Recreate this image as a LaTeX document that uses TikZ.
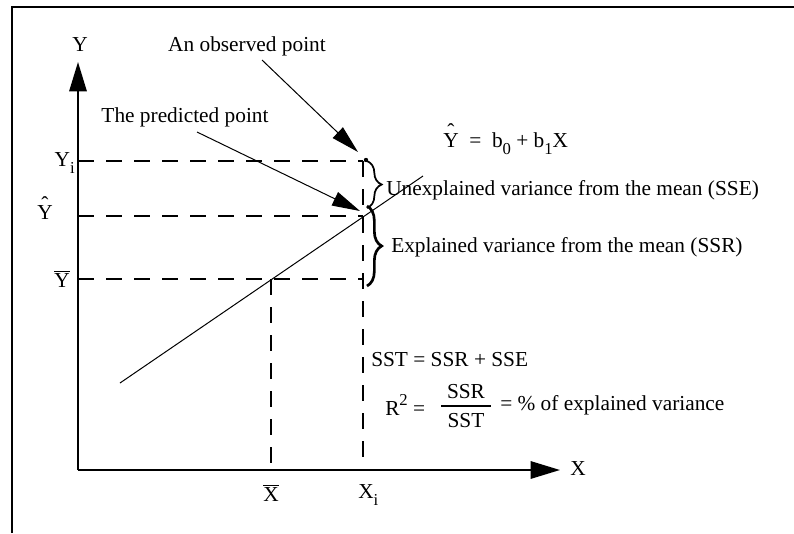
\documentclass[tikz,border=0pt]{standalone}
\usepackage{fontspec}
\setmainfont{Liberation Serif}
\usetikzlibrary{arrows.meta,decorations.pathreplacing}
\newcommand\mysub[1]{\raisebox{-0.32em}{\fontsize{12.5}{12.5}\selectfont #1}}
\newcommand\mysup[1]{\raisebox{0.45em}{\fontsize{12.5}{12.5}\selectfont #1}}
\newcommand\hatY{\ooalign{Y\cr\hfil\raisebox{0.42em}{\char"02C6}\hfil\cr}}
\begin{document}
\begin{tikzpicture}[x=0.75pt,y=-0.75pt,
  txt/.style={font=\fontsize{16}{19}\selectfont, inner sep=0pt},
  axis/.style={line width=1.5pt},
  guide/.style={line width=1.5pt, dash pattern=on 12pt off 9pt},
  bigarrow/.style={-{Triangle[length=22pt,width=13pt]}},
  callout/.style={line width=0.75pt,-{Triangle[length=21pt,width=11pt]}},
  bracestyle/.style={decorate, decoration={brace, amplitude=11pt}},
]
\useasboundingbox (0,0) rectangle (794,533);
% frame
\coordinate (fb) at (12,533);
\coordinate (fc) at (12,7);
\coordinate (fr) at (794,7);
\draw[line width=1.5pt] (fb) -- (fc) -- (fr);

% axes
\coordinate (O) at (78,470);
\coordinate (ytop) at (78,62);
\coordinate (xend) at (560,470);
\draw[axis, bigarrow] (O) -- (ytop);
\draw[axis, bigarrow] (O) -- (xend);
\node[txt] (Ylab) at (80,45) {Y};
\node[txt] (Xlab) at (578,469) {X};

% key points
\coordinate (Pi) at (363,161);
\coordinate (Ph) at (363,216);
\coordinate (Pb) at (363,279);
\coordinate (M) at (271,279);
\coordinate (Ayi) at (78,161);
\coordinate (Ayh) at (78,216);
\coordinate (Ayb) at (78,279);
\coordinate (Axb) at (271,470);
\coordinate (Axi) at (363,470);

% dashed guides
\draw[guide] (Ayi) -- (Pi);
\draw[guide] (Ayh) -- (Ph);
\draw[guide] (Ayb) -- (Pb);
\draw[guide] (Pi) -- (Axi);
\draw[guide] (M) -- (Axb);

% regression line
\coordinate (L1) at (120,383);
\coordinate (L2) at (423,176);
\draw[line width=0.75pt] (L1) -- (L2);

% observed point
\fill (366,160) circle (2.2);

% axis labels
\node[txt, anchor=east] (lYi) at (75,163) {Y\mysub{i}};
\node[txt] (lYh) at (45,213) {\hatY};
\node[txt] (lYb) at (62,279) {$\overline{\hbox{Y}}$};
\node[txt] (lXb) at (271,493) {$\overline{\hbox{X}}$};
\node[txt, anchor=west] (lXi) at (358,495) {X\mysub{i}};

% callouts
\node[txt] (obs) at (247,46) {An observed point};
\coordinate (obsfrom) at (262,60);
\coordinate (obstip) at (358,152);
\draw[callout] (obsfrom) -- (obstip);
\node[txt] (pred) at (185,117) {The predicted point};
\coordinate (predfrom) at (197,132);
\coordinate (predtip) at (360,211);
\draw[callout] (predfrom) -- (predtip);

% braces
\coordinate (B1a) at (367,161);
\coordinate (B1b) at (367,208);
\coordinate (B2a) at (367,206);
\coordinate (B2b) at (367,286);
\draw[bracestyle, line width=1.3pt] (B1a) -- (B1b);
\draw[bracestyle, line width=2pt] (B2a) -- (B2b);

% texts
\node[txt, anchor=west] (eq) at (443,144) {\hatY\ \ =\ \ b\mysub{0} + b\mysub{1}X};
\node[txt, anchor=west] (sse) at (386,190) {Unexplained variance from the mean (SSE)};
\node[txt, anchor=west] (ssr) at (391,247) {Explained variance from the mean (SSR)};
\node[txt, anchor=west] (sst) at (371,360) {SST = SSR + SSE};
\node[txt, anchor=west] (r2) at (385,405) {R\mysup{2} =};
\node[txt] (num) at (466,392) {SSR};
\node[txt] (den) at (466,421) {SST};
\coordinate (barL) at (441,406);
\coordinate (barR) at (491,406);
\draw[line width=1.6pt] (barL) -- (barR);
\node[txt, anchor=west] (pct) at (500,405) {= \% of explained variance};
\end{tikzpicture}
\end{document}
